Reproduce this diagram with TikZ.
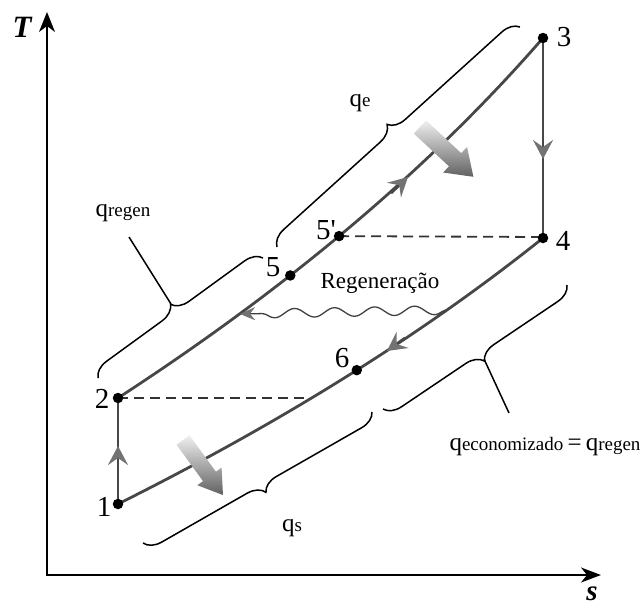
\documentclass[tikz,border=0pt]{standalone}
\usepackage{fontspec}
\setmainfont{Liberation Serif}
\usetikzlibrary{arrows.meta,decorations.pathreplacing,decorations.pathmorphing}
\newcommand\qlab[1]{{\fontsize{25}{28}\selectfont q}{\fontsize{19}{22}\selectfont #1}}
\begin{document}
\begin{tikzpicture}[x=1pt,y=-1pt,
  cyc/.style={draw=black!72,line width=2.8pt},
  axis/.style={draw=black,line width=1.8pt,{Stealth[length=20pt,width=16pt,inset=6pt]}-{Stealth[length=20pt,width=15pt,inset=6pt]}},
  dot/.style={circle,fill=black,inner sep=0pt,minimum size=10.5pt},
  num/.style={font=\fontsize{29}{32}\selectfont,inner sep=0pt},
  lab/.style={inner sep=0pt},
  br/.style={draw=black,line width=1.5pt,decorate,decoration={brace,amplitude=17pt}},
  brm/.style={draw=black,line width=1.5pt,decorate,decoration={brace,amplitude=17pt,mirror}},
  pointer/.style={draw=black,line width=1.5pt},
  dash line/.style={draw=black!80,line width=1.8pt,dash pattern=on 10pt off 6pt},
  tipstyle/.style={draw=black!72,line width=2.8pt,-{Stealth[length=19pt,width=20pt,inset=7pt,black!55]}},
  fatarrow/.style={top color=black!6,bottom color=black!62,draw=none}
]
\useasboundingbox (0,0) rectangle (644,608);

% axes
\coordinate (O) at (47,575);
\coordinate (Ttip) at (47,12);
\coordinate (Stip) at (601,575);
\draw[axis] (Ttip) -- (O) -- (Stip);
\node[lab,font=\fontsize{31}{32}\selectfont\bfseries\itshape] (Tl) at (22,27) {T};
\node[lab,font=\fontsize{29}{30}\selectfont\bfseries\itshape] (Sl) at (592,594) {s};

% state points and control points
\coordinate (p1) at (118,504);
\coordinate (p2) at (118,398);
\coordinate (p3) at (543,38);
\coordinate (p4) at (543,238);
\coordinate (h1) at (278,294);
\coordinate (h2) at (423,176);
\coordinate (k1) at (268,429);
\coordinate (k2) at (413,342);
\path (p2) .. controls (h1) and (h2) .. (p3)
   coordinate[pos=0.373] (p5) coordinate[pos=0.485] (p5p);
\path (p1) .. controls (k1) and (k2) .. (p4)
   coordinate[pos=0.544] (p6);
\coordinate (d2) at (309,398);
\coordinate (d4) at (543,237);

% dashed lines
\draw[dash line] (p2) -- (d2);
\draw[dash line] (p5p) -- (d4);

% cycle
\draw[cyc] (p1) -- (p2);
\draw[cyc] (p3) -- (p4);
\draw[cyc] (p2) .. controls (h1) and (h2) .. (p3);
\draw[cyc] (p4) .. controls (k2) and (k1) .. (p1);

% direction arrowheads
\coordinate (a12s) at (118,470); \coordinate (a12e) at (118,446);
\coordinate (a34s) at (543,135); \coordinate (a34e) at (543,159);
\coordinate (ahs) at (391,193); \coordinate (ahe) at (408,177);
\coordinate (als) at (405,338); \coordinate (ale) at (387,351);
\draw[tipstyle] (a12s) -- (a12e);
\draw[tipstyle] (a34s) -- (a34e);
\draw[tipstyle] (ahs) -- (ahe);
\draw[tipstyle] (als) -- (ale);

% dots
\foreach \p in {p1,p2,p3,p4,p5,p5p,p6} \node[dot] at (\p) {};

% number labels
\node[num] (l1) at (104,507) {1};
\node[num] (l2) at (102,399) {2};
\node[num] (l3) at (564,37) {3};
\node[num] (l4) at (563,241) {4};
\node[num] (l5) at (273,267) {5};
\node[num] (l5p) at (326,230) {5\textquotesingle};
\node[num] (l6) at (342,358) {6};

% regeneration wavy arrow
\coordinate (w1) at (447,310);
\coordinate (w2) at (240,314);
\draw[black!75,line width=1.3pt,decorate,decoration={snake,segment length=40pt,amplitude=4.5pt,post length=14pt},-{Stealth[length=15pt,width=13pt,inset=5pt,black!55]}] (w1) -- (w2);
\node[lab,font=\fontsize{23}{26}\selectfont] (reg) at (380,283) {Regeneração};

% braces
\coordinate (be1) at (277,247); \coordinate (be2) at (520,27);
\coordinate (br1) at (98,378);  \coordinate (br2) at (263,258);
\coordinate (bs1) at (143,543); \coordinate (bs2) at (372,412);
\coordinate (bc1) at (383,409); \coordinate (bc2) at (567,285);
\draw[br] (be1) -- (be2);
\draw[br] (br1) -- (br2);
\draw[brm] (bs1) -- (bs2);
\draw[brm] (bc1) -- (bc2);

% brace labels
\node[lab] (qe) at (360,103) {\qlab{e}};
\node[lab] (qs) at (292,528) {\qlab{s}};
\node[lab] (qr) at (123,213) {\qlab{regen}};
\node[lab] (qc) at (545,447) {\qlab{economizado}{\fontsize{25}{28}\selectfont\,=\,}\qlab{regen}};

% pointers
\coordinate (cr) at (171,304);
\coordinate (cr2) at (129,237);
\coordinate (cc) at (484,359);
\coordinate (cc2) at (509,413);
\draw[pointer] (cr) -- (cr2);
\draw[pointer] (cc) -- (cc2);

% gradient arrows
\begin{scope}[shift={(420,127)},rotate=-43]
  \shade[fatarrow] (0,-9) -- (48,-9) -- (48,-17.5) -- (73,0) -- (48,17.5) -- (48,9) -- (0,9) -- cycle;
\end{scope}
\begin{scope}[shift={(183,440)},rotate=-54]
  \shade[fatarrow] (0,-8) -- (45,-8) -- (45,-15) -- (68,0) -- (45,15) -- (45,8) -- (0,8) -- cycle;
\end{scope}
\end{tikzpicture}
\end{document}
